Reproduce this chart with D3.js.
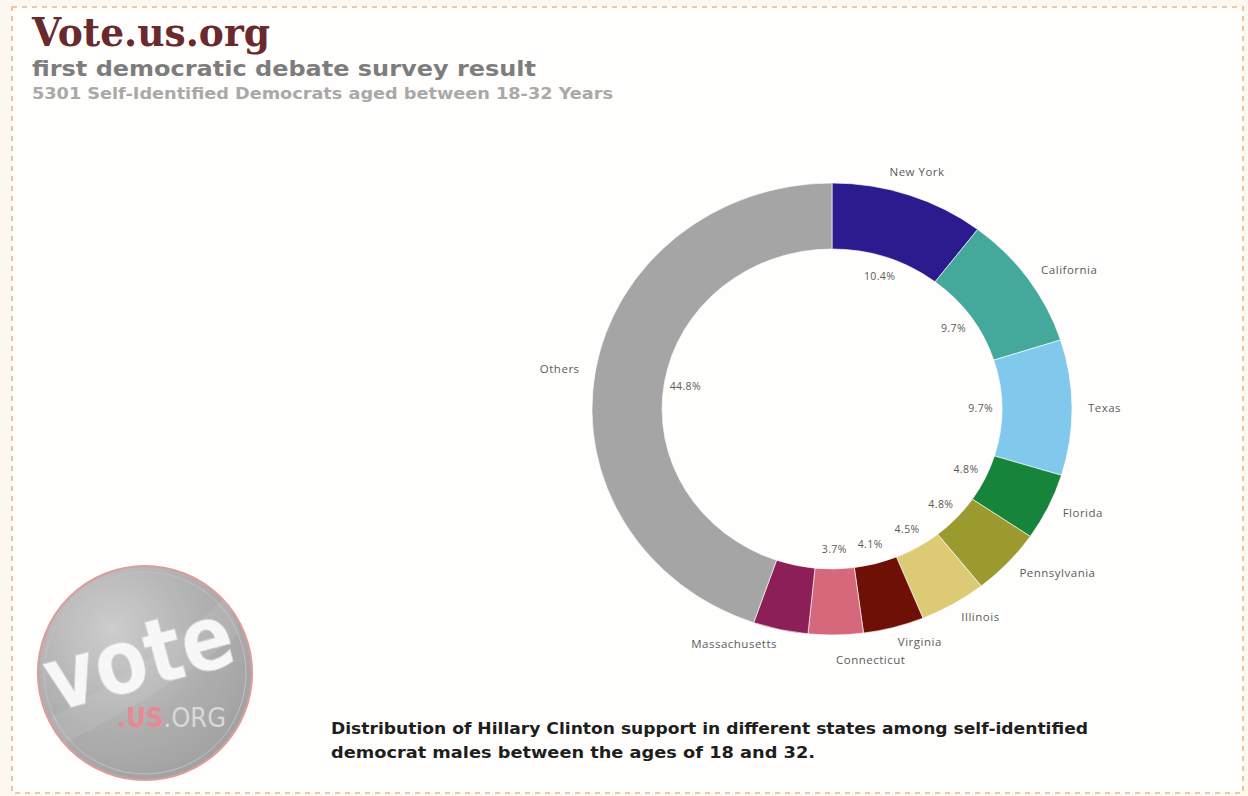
<!DOCTYPE html>
<html>
<head>
<meta charset="utf-8">
<script src="https://cdn.jsdelivr.net/npm/d3@7"></script>
<style>
  html, body { margin: 0; padding: 0; background: #fdf8ef; }
  svg { display: block; }
</style>
</head>
<body>
<svg id="chart" width="1248" height="796"></svg>
<script>
// ---- data ----
const states = ["New York", "California", "Texas", "Florida", "Pennsylvania", "Illinois", "Virginia", "Connecticut", "Massachusetts", "Others"];
const shares = [10.4, 9.7, 9.7, 4.8, 4.8, 4.5, 4.1, 3.7, 3.7, 44.8];
const sliceColors = ["#2c1b8e", "#44a99b", "#80c8ec", "#17843b", "#9b9a2f", "#dccb74", "#6e1006", "#d5687a", "#8d1f58", "#a5a5a5"];
const hiddenValueLabels = ["Massachusetts"];
const titleText = "Vote.us.org";
const subtitleText = "first democratic debate survey result";
const subsubText = "5301 Self-Identified Democrats aged between 18-32 Years";
const footerLines = ["Distribution of Hillary Clinton support in different states among self-identified",
                     "democrat males between the ages of 18 and 32."];

const data = states.map((s, i) => ({ state: s, share: shares[i], color: sliceColors[i] }));

const svg = d3.select("#chart");

// frame
svg.append("rect").attr("x", 12).attr("y", 7).attr("width", 1231).attr("height", 786)
  .attr("fill", "#fffefc").attr("stroke", "#e8b88d").attr("stroke-width", 1.6)
  .attr("stroke-dasharray", "5,5");

// titles
svg.append("text").attr("x", 32).attr("y", 46).text(titleText)
  .attr("font-family", "DejaVu Serif").attr("font-weight", "bold").attr("font-size", 39)
  .attr("fill", "#682a2d").attr("textLength", 238).attr("lengthAdjust", "spacingAndGlyphs");
svg.append("text").attr("x", 32).attr("y", 76).text(subtitleText)
  .attr("font-family", "DejaVu Sans").attr("font-weight", "bold").attr("font-size", 22)
  .attr("fill", "#7d7d7d").attr("textLength", 504).attr("lengthAdjust", "spacingAndGlyphs");
svg.append("text").attr("x", 32).attr("y", 99).text(subsubText)
  .attr("font-family", "DejaVu Sans").attr("font-weight", "bold").attr("font-size", 15)
  .attr("fill", "#a9a9a9").attr("textLength", 581).attr("lengthAdjust", "spacingAndGlyphs");

// footer
const footer = svg.append("g");
footerLines.forEach((t, i) => {
  footer.append("text").attr("x", 331).attr("y", 734 + i * 24).text(t)
    .attr("font-family", "DejaVu Sans").attr("font-weight", "bold").attr("font-size", 16)
    .attr("fill", "#1e1e1e")
    .attr("textLength", i === 0 ? 757 : 484).attr("lengthAdjust", "spacingAndGlyphs");
});

// ---- donut ----
const cx = 832, cy = 409, sx = 1.062;
const rOuter = 226, rInner = 160, rValue = 140, rLabel = 241;

const pie = d3.pie().sort(null).value(d => d.share);
const arcs = pie(data);
const arc = d3.arc().innerRadius(rInner).outerRadius(rOuter);

const ring = svg.append("g").attr("transform", `translate(${cx},${cy}) scale(${sx},1)`);
ring.selectAll("path").data(arcs).enter().append("path")
  .attr("d", arc).attr("fill", d => d.data.color)
  .attr("stroke", "#ffffff").attr("stroke-width", 0.6);

function pt(a, r) { return [cx + sx * r * Math.sin(a), cy - r * Math.cos(a)]; }

// value labels (inside hole)
const valG = svg.append("g");
arcs.filter(d => !hiddenValueLabels.includes(d.data.state)).forEach(d => {
  const a = (d.startAngle + d.endAngle) / 2;
  const [x, y] = pt(a, rValue);
  valG.append("text").attr("x", x).attr("y", y).attr("dy", "0.35em")
    .attr("text-anchor", "middle").attr("font-family", "Open Sans").attr("font-size", 10.5)
    .attr("letter-spacing", 0.4)
    .attr("fill", "#5a5a5a").text(d.data.share.toFixed(1) + "%");
});

// category labels (outside)
const labG = svg.append("g");
const placed = [];
arcs.forEach(d => {
  const a = (d.startAngle + d.endAngle) / 2;
  const deg = a * 180 / Math.PI;
  let anchor = (deg < 30 || deg > 330) ? "middle" : (Math.sin(a) >= 0 ? "start" : "end");
  const r = anchor === "middle" ? rLabel + 9 : rLabel;
  const [x, y] = pt(a, r);
  const t = labG.append("text").attr("x", x).attr("y", y).attr("dy", "0.35em")
    .attr("text-anchor", anchor).attr("font-family", "Open Sans").attr("font-size", 11.5)
    .attr("letter-spacing", 0.5)
    .attr("fill", "#5c5c5c").text(d.data.state);
  // simple collision avoidance: push down if overlapping an earlier label
  let bb = t.node().getBBox();
  placed.forEach(p => {
    const ox = bb.x < p.x + p.width && p.x < bb.x + bb.width;
    const oy = bb.y < p.y + p.height + 3 && p.y < bb.y + bb.height;
    if (ox && oy) {
      const shift = p.y + p.height + 3 - bb.y;
      t.attr("y", +t.attr("y") + shift);
      bb = t.node().getBBox();
    }
  });
  placed.push(bb);
});

// ---- logo ----
const defs = svg.append("defs");
const grad = defs.append("radialGradient").attr("id", "logoGrad")
  .attr("cx", "35%").attr("cy", "30%").attr("r", "75%");
grad.append("stop").attr("offset", "0%").attr("stop-color", "#c9c9c9");
grad.append("stop").attr("offset", "60%").attr("stop-color", "#a9a9a9");
grad.append("stop").attr("offset", "100%").attr("stop-color", "#9a9a9a");

const logo = svg.append("g").attr("transform", "translate(145,673)").attr("opacity", 0.92);
logo.append("circle").attr("r", 107).attr("fill", "url(#logoGrad)")
  .attr("stroke", "#d99494").attr("stroke-width", 2.2);
logo.append("circle").attr("r", 101).attr("fill", "none")
  .attr("stroke", "#bcbcbc").attr("stroke-width", 1);
logo.append("path").attr("d", "M -95 45 Q 10 -10 80 -75 L 95 -40 Q 20 20 -80 70 Z")
  .attr("fill", "#ffffff").attr("opacity", 0.08);
logo.append("text").attr("x", -2).attr("y", 14).attr("text-anchor", "middle")
  .attr("transform", "rotate(-15)")
  .attr("font-family", "DejaVu Sans").attr("font-weight", "bold").attr("font-size", 90)
  .attr("fill", "#f7f7f7").attr("stroke", "#cfcfcf").attr("stroke-width", 1)
  .attr("textLength", 192).attr("lengthAdjust", "spacingAndGlyphs").text("vote");
const tag = logo.append("text").attr("x", -28).attr("y", 54)
  .attr("font-family", "DejaVu Sans Condensed").attr("font-weight", "bold").attr("font-size", 27);
tag.append("tspan").attr("fill", "#e5808c").text(".US");
tag.append("tspan").attr("fill", "#d6d6d6").attr("font-weight", "normal").text(".ORG");
</script>
</body>
</html>
